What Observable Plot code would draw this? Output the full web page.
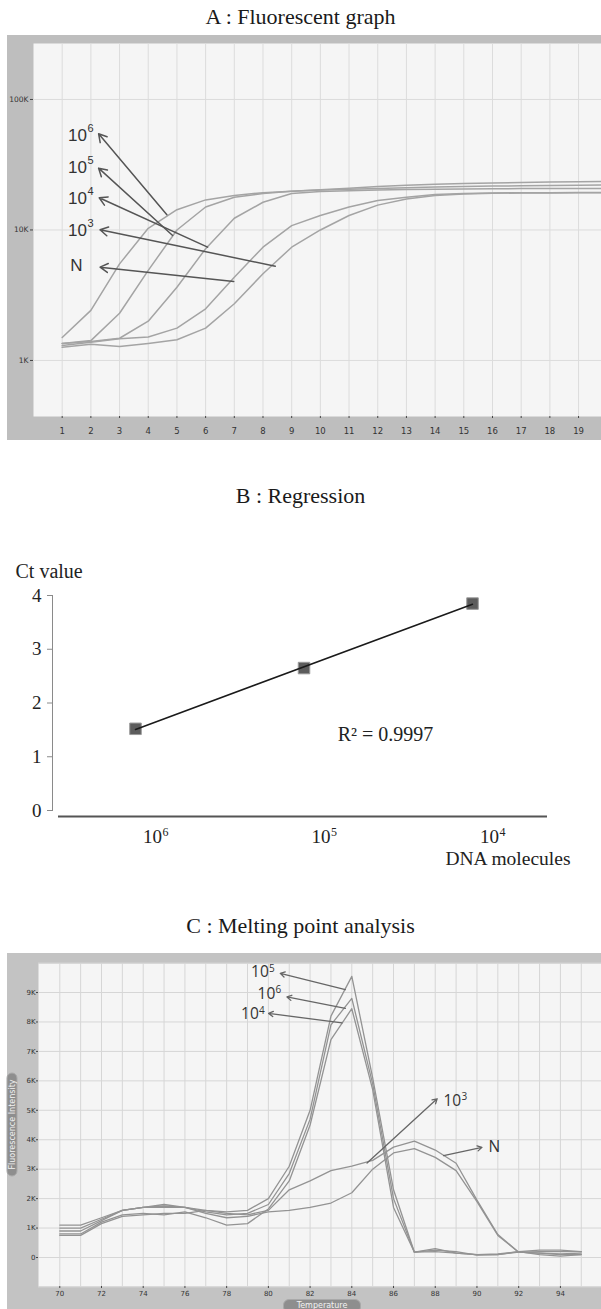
<!DOCTYPE html>
<html><head><meta charset="utf-8">
<script src="https://cdn.jsdelivr.net/npm/d3@7"></script>
<script src="https://cdn.jsdelivr.net/npm/@observablehq/plot@0.6"></script>
<style>
html,body{margin:0;padding:0;background:#fff;}
#page{position:relative;width:601px;height:1309px;overflow:hidden;}
.title{position:absolute;left:0;width:601px;text-align:center;font-family:"Liberation Serif","Times New Roman",serif;font-size:22px;line-height:22px;color:#1a1a1a;white-space:nowrap;}
.slot{position:absolute;}
.slot svg{display:block;}
.pill{position:absolute;background:#8e8e8e;color:#f2f2f2;font-family:"DejaVu Sans",sans-serif;font-size:8px;text-align:center;border:1px solid #a9a9a9;border-radius:6px;box-sizing:border-box;white-space:nowrap;}
</style></head>
<body><div id="page">
<div class="title" style="top:6px">A : Fluorescent graph</div>
<div class="slot" id="chartA" style="left:7px;top:35px"></div>
<div class="title" style="top:485px">B : Regression</div>
<div class="slot" id="chartB" style="left:0px;top:560px"></div>
<div class="title" style="top:915px">C : Melting point analysis</div>
<div class="slot" id="chartC" style="left:7px;top:953px"></div>
<div class="pill" style="left:283px;top:1299px;width:78px;height:14px;line-height:12px;">Temperature</div>
<div class="pill" style="left:-40px;top:1119px;width:104px;height:11px;line-height:9px;transform:rotate(-90deg);">Fluorescence Intensity</div>
</div>
<script>
// ---------- A : Fluorescent graph ----------
const cycles = [1,2,3,4,5,6,7,8,9,10,11,12,13,14,15,16,17,18,19,20];
const fluo1e6 = [1500,2420,5500,10300,14300,17000,18400,19300,19800,20300,20900,21500,22000,22400,22700,22900,23100,23300,23400,23500];
const fluo1e5 = [1350,1420,2300,4900,10000,15000,17800,19000,19800,20200,20500,20800,21100,21300,21500,21700,21800,21900,22000,22100];
const fluo1e4 = [1350,1400,1480,2000,3640,7180,12300,16300,19000,19700,20000,20200,20400,20500,20600,20700,20750,20800,20800,20800];
const fluo1e3 = [1300,1380,1465,1515,1770,2490,4340,7380,10800,12900,15000,16800,17800,18700,19000,19200,19300,19300,19400,19400];
const fluoN   = [1260,1330,1280,1350,1440,1770,2720,4620,7380,10000,12900,15500,17300,18400,18900,19100,19200,19200,19300,19300];
const seriesA = ["1e6","1e5","1e4","1e3","N"];
const ticksAx = [1,2,3,4,5,6,7,8,9,10,11,12,13,14,15,16,17,18,19];
const ticksAy = [1000,10000,100000];
const tickLabelsAy = ["1K","10K","100K"];
// annotations (label + arrow) for A
const annoBaseA = ["10","10","10","10","N"];
const annoSupA = ["6","5","4","3",""];
const annoLabelCycleA = [1.2,1.2,1.2,1.2,1.28];
const annoLabelFA = [52950,30270,17340,9910,5345];
const annoTailCycleA = [4.65,4.85,6.07,8.43,6.98];
const annoTailFA = [13080,9080,7380,5280,4030];
const annoHeadCycleA = [2.27,2.27,2.29,2.32,2.32];
const annoHeadFA = [54600,29760,17650,10030,5190];

// ---------- B : Regression ----------
const dnaLog = [6,5,4];
const ctValues = [1.52,2.65,3.85];
const ticksBy = [0,1,2,3,4];
const r2Text = "R² = 0.9997";

// ---------- C : Melting point analysis ----------
const temps = [70,71,72,73,74,75,76,77,78,79,80,81,82,83,84,85,86,87,88,89,90,91,92,93,94,95];
const melt1e5 = [1100,1100,1350,1600,1700,1750,1700,1600,1550,1600,2000,3100,5000,8200,9550,6100,2300,180,300,150,100,120,200,250,250,200];
const melt1e6 = [900,900,1250,1600,1700,1700,1700,1550,1450,1500,1800,2850,4700,7900,8800,5900,2000,180,250,200,80,100,180,150,100,100];
const melt1e4 = [800,800,1200,1450,1500,1450,1550,1350,1100,1150,1650,2600,4500,7400,8450,5700,1700,180,200,150,100,100,200,100,50,100];
const melt1e3 = [750,750,1150,1400,1450,1500,1500,1600,1500,1450,1600,2300,2600,2950,3100,3300,3750,3950,3650,3200,1950,780,180,150,120,150];
const meltN   = [1000,1000,1300,1600,1700,1800,1700,1500,1350,1400,1550,1600,1700,1850,2200,3000,3550,3700,3400,2950,1900,750,180,200,200,200];
const seriesC = ["1e5","1e6","1e4","1e3","N"];
const gridCx = [70,71,72,73,74,75,76,77,78,79,80,81,82,83,84,85,86,87,88,89,90,91,92,93,94,95];
const gridCy = [-1000,0,1000,2000,3000,4000,5000,6000,7000,8000,9000,10000];
const ticksCx = [70,72,74,76,78,80,82,84,86,88,90,92,94];
const ticksCy = [0,1000,2000,3000,4000,5000,6000,7000,8000,9000];
const tickLabelsCy = ["0","1K","2K","3K","4K","5K","6K","7K","8K","9K"];
const annoBaseC = ["10","10","10","10","N"];
const annoSupC = ["5","6","4","3",""];
const annoLabelTC = [79.17,79.48,78.69,88.39,90.55];
const annoLabelFC = [9680,8960,8260,5330,3740];
const annoTailTC = [83.69,83.69,83.53,84.73,88.40];
const annoTailFC = [9100,8460,7970,3210,3460];
const annoHeadTC = [80.57,80.89,80.01,88.09,90.24];
const annoHeadFC = [9650,8850,8290,5390,3740];

// ---------- build tables ----------
const rowsA = [];
[fluo1e6,fluo1e5,fluo1e4,fluo1e3,fluoN].forEach((vals,k)=>vals.forEach((v,i)=>rowsA.push({series:seriesA[k],cycle:cycles[i],f:v})));
const annoA = annoBaseA.map((b,i)=>({base:b,sup:annoSupA[i],lx:annoLabelCycleA[i],ly:annoLabelFA[i],tx:annoTailCycleA[i],ty:annoTailFA[i],hx:annoHeadCycleA[i],hy:annoHeadFA[i]}));
const rowsB = dnaLog.map((d,i)=>({logN:d,ct:ctValues[i]}));
const rowsC = [];
[melt1e5,melt1e6,melt1e4,melt1e3,meltN].forEach((vals,k)=>vals.forEach((v,i)=>rowsC.push({series:seriesC[k],t:temps[i],f:v})));
const annoC = annoBaseC.map((b,i)=>({base:b,sup:annoSupC[i],lx:annoLabelTC[i],ly:annoLabelFC[i],tx:annoTailTC[i],ty:annoTailFC[i],hx:annoHeadTC[i],hy:annoHeadFC[i]}));
const labelMapAy = new Map(ticksAy.map((d,i)=>[d,tickLabelsAy[i]]));
const labelMapCy = new Map(ticksCy.map((d,i)=>[d,tickLabelsCy[i]]));

const sans = "DejaVu Sans, Verdana, sans-serif";
const serif = "Liberation Serif, Times New Roman, serif";
const labelSans = "Liberation Sans, Arial, sans-serif";

// ---------- Plot A ----------
const plotA = Plot.plot({
  width: 594, height: 405,
  marginLeft: 26, marginTop: 8, marginBottom: 24, marginRight: 0,
  style: {background: "#bebebe", fontFamily: sans, color: "#333", overflow: "hidden"},
  x: {domain: [0, 19.8], label: null},
  y: {type: "log", domain: [372, 268500], label: null},
  marks: [
    Plot.frame({fill: "#f5f5f5", stroke: null}),
    Plot.gridX(ticksAx, {stroke: "#dcdcdc", strokeOpacity: 1}),
    Plot.gridY(ticksAy, {stroke: "#dcdcdc", strokeOpacity: 1}),
    Plot.axisX({ticks: ticksAx, tickSize: 2, tickPadding: 9, fontSize: 8.5, stroke: "#444", label: null}),
    Plot.axisY({ticks: ticksAy, tickFormat: d => labelMapAy.get(d), tickSize: 3, tickPadding: 2, fontSize: 7.5, stroke: "#444", label: null}),
    Plot.line(rowsA, {x: "cycle", y: "f", z: "series", stroke: "#a4a4a4", strokeWidth: 1.5, clip: true}),
    Plot.arrow(annoA, {x1: "tx", y1: "ty", x2: "hx", y2: "hy", stroke: "#555", strokeWidth: 1.5, headLength: 9}),
    Plot.text(annoA, {x: "lx", y: "ly", text: "base", textAnchor: "start", fontSize: 17, fontFamily: labelSans, fill: "#333"}),
    Plot.text(annoA, {x: "lx", y: "ly", text: "sup", textAnchor: "start", fontSize: 11, fontFamily: labelSans, fill: "#333", dx: 19.5, dy: -7})
  ]
});
document.getElementById("chartA").append(plotA);

// ---------- Plot B ----------
const plotB = Plot.plot({
  width: 601, height: 320,
  marginLeft: 52, marginRight: 54, marginTop: 35, marginBottom: 70,
  style: {background: "transparent", fontFamily: serif, color: "#222", overflow: "visible"},
  x: {domain: [6.4926, 3.555], label: null},
  y: {domain: [0, 4], label: null},
  marks: [
    Plot.frame({anchor: "left", stroke: "#8a8a8a"}),
    Plot.ruleY([0], {x1: 6.457, x2: 3.555, dy: 6, stroke: "#555", strokeWidth: 2}),
    Plot.axisY({ticks: ticksBy, tickFormat: d => String(d), tickSize: 5, tickPadding: 6, fontSize: 19, stroke: "#8a8a8a", label: null}),
    Plot.axisX({ticks: dnaLog, tickFormat: () => "10", tickSize: 0, tickPadding: 19, dx: 17, fontSize: 19, label: null}),
    Plot.text(dnaLog, {x: d => d, frameAnchor: "bottom", text: d => String(d), textAnchor: "start", lineAnchor: "bottom", dx: 27, dy: 25, fontSize: 12, fill: "#222"}),
    Plot.dot(rowsB, {x: "logN", y: "ct", symbol: "square", r: 6.5, fill: "#5c5c5c", stroke: "#9a9a9a", strokeWidth: 1}),
    Plot.linearRegressionY(rowsB, {x: "logN", y: "ct", stroke: "#1a1a1a", strokeWidth: 1.5, ci: 0}),
    Plot.text([r2Text], {x: 4.80, y: 1.30, textAnchor: "start", lineAnchor: "bottom", fontSize: 20, fill: "#222"}),
    Plot.text(["Ct value"], {frameAnchor: "top-left", textAnchor: "start", lineAnchor: "bottom", dx: -37, dy: -18, fontSize: 20, fill: "#222"}),
    Plot.text(["DNA molecules"], {frameAnchor: "bottom-right", textAnchor: "end", lineAnchor: "bottom", dx: 23, dy: 54, fontSize: 19.5, fill: "#222"})
  ]
});
document.getElementById("chartB").append(plotB);

// ---------- Plot C ----------
const plotC = Plot.plot({
  width: 594, height: 356,
  marginLeft: 31, marginTop: 10, marginBottom: 23, marginRight: 0,
  style: {background: "#c3c3c3", fontFamily: sans, color: "#333", overflow: "hidden"},
  x: {domain: [68.98, 95.97], label: null},
  y: {domain: [-985, 9986], label: null},
  marks: [
    Plot.frame({fill: "#f5f5f5", stroke: null}),
    Plot.gridX(gridCx, {stroke: "#d6d6d6", strokeOpacity: 1}),
    Plot.gridY(gridCy, {stroke: "#d6d6d6", strokeOpacity: 1}),
    Plot.axisX({ticks: ticksCx, tickSize: 2, tickPadding: 3, fontSize: 7, stroke: "#444", label: null}),
    Plot.axisY({ticks: ticksCy, tickFormat: d => labelMapCy.get(d), tickSize: 2, tickPadding: 1, fontSize: 7, stroke: "#444", label: null}),
    Plot.line(rowsC, {x: "t", y: "f", z: "series", stroke: "#939393", strokeWidth: 1.3}),
    Plot.arrow(annoC, {x1: "tx", y1: "ty", x2: "hx", y2: "hy", stroke: "#666", strokeWidth: 1.3, headLength: 6}),
    Plot.text(annoC, {x: "lx", y: "ly", text: "base", textAnchor: "start", fontSize: 15.5, fontFamily: "Open Sans, sans-serif", fill: "#333"}),
    Plot.text(annoC, {x: "lx", y: "ly", text: "sup", textAnchor: "start", fontSize: 10, fontFamily: "Open Sans, sans-serif", fill: "#333", dx: 18, dy: -4})
  ]
});
document.getElementById("chartC").append(plotC);
</script>
</body></html>
